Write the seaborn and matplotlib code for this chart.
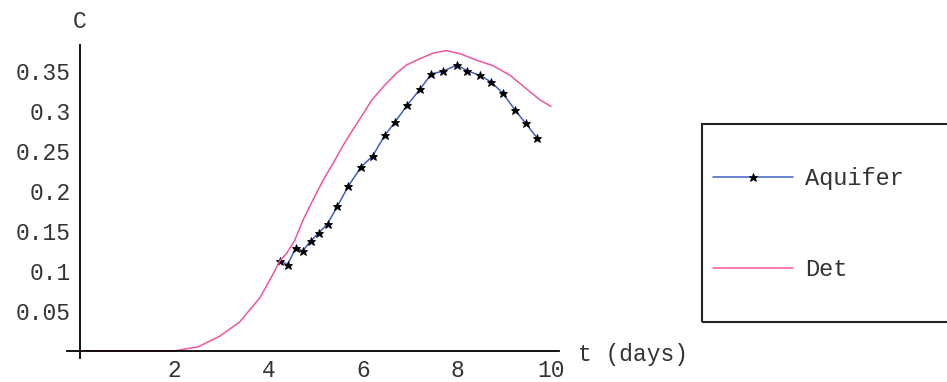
import matplotlib
matplotlib.use("Agg")
import matplotlib.pyplot as plt
from matplotlib.patches import Rectangle
import seaborn as sns

# ---- data ----
aquifer_t = [4.23, 4.40, 4.58, 4.72, 4.90, 5.07, 5.25, 5.46, 5.69, 5.96, 6.21, 6.47,
             6.69, 6.95, 7.22, 7.46, 7.70, 8.00, 8.21, 8.49, 8.72, 8.97, 9.23, 9.46, 9.70]
aquifer_c = [0.113, 0.108, 0.129, 0.125, 0.138, 0.148, 0.159, 0.181, 0.206, 0.230, 0.244, 0.270,
             0.287, 0.308, 0.328, 0.347, 0.350, 0.358, 0.351, 0.345, 0.337, 0.323, 0.302, 0.285, 0.267]
det_t = [0.12, 2.0, 2.1, 2.5, 2.95, 3.38, 3.82, 4.10, 4.24, 4.38, 4.55, 4.74, 4.95, 5.16,
         5.37, 5.59, 5.80, 6.01, 6.19, 6.44, 6.72, 6.93, 7.22, 7.50, 7.78, 8.07, 8.42,
         8.77, 9.13, 9.48, 9.77, 10.0]
det_c = [0.0, 0.0, 0.001, 0.005, 0.018, 0.036, 0.067, 0.097, 0.113, 0.122, 0.138, 0.165, 0.190, 0.214,
         0.235, 0.258, 0.278, 0.297, 0.314, 0.331, 0.348, 0.358, 0.366, 0.373, 0.376, 0.372, 0.364,
         0.357, 0.345, 0.328, 0.314, 0.306]
x_ticks = [2, 4, 6, 8, 10]
x_tick_labels = ["2", "4", "6", "8", "10"]
y_ticks = [0.05, 0.1, 0.15, 0.2, 0.25, 0.3, 0.35]
y_tick_labels = ["0.05", "0.1", "0.15", "0.2", "0.25", "0.3", "0.35"]
series_names = ["Aquifer", "Det"]
x_label = "t (days)"
y_label = "C"

sns.set_style("white")
plt.rcParams["font.family"] = ["Liberation Mono", "DejaVu Sans Mono"]
FS = 16.5
TXT = "#333333"
BLUE = "#3f5fc4"
PINK = "#f0559f"

W, H = 947, 382
fig = plt.figure(figsize=(W / 100, H / 100), dpi=100)
ax = fig.add_axes([67.3 / W, (H - 358) / H, (559 - 67.3) / W, (358 - 45) / H])

sns.lineplot(x=aquifer_t, y=aquifer_c, ax=ax, sort=False, color=BLUE, lw=1.1,
             marker="*", markersize=6.3, markerfacecolor="black",
             markeredgecolor="black", markeredgewidth=0.6, label=series_names[0])
sns.lineplot(x=det_t, y=det_c, ax=ax, sort=False, color=PINK, lw=1.1, label=series_names[1])

ax.set_xlim(-0.28, 10.17)
ax.set_ylim(-0.009, 0.383)
for s in ["top", "right"]:
    ax.spines[s].set_visible(False)
ax.spines["left"].set_position(("data", 0))
ax.spines["bottom"].set_position(("data", 0))
for s in ["left", "bottom"]:
    ax.spines[s].set_color("black")
    ax.spines[s].set_linewidth(1.3)
ax.set_xticks(x_ticks, x_tick_labels)
ax.set_yticks(y_ticks, y_tick_labels)
ax.tick_params(axis="both", direction="in", length=3, width=1, color="black",
               labelsize=FS, labelcolor=TXT)
ax.tick_params(axis="y", pad=7)
ax.tick_params(axis="x", pad=6)
ax.set_xlabel("")
ax.set_ylabel("")
fig.text(80 / W, 1 - 22 / H, y_label, ha="center", va="center", fontsize=FS, color=TXT)
fig.text(578 / W, 1 - 354 / H, x_label, ha="left", va="center", fontsize=FS, color=TXT)

handles, labels = ax.get_legend_handles_labels()
if ax.legend_:
    ax.legend_.remove()
leg = fig.legend(handles, labels, loc="upper left", bbox_to_anchor=(713 / W, 1 - 167 / H),
                 bbox_transform=fig.transFigure, frameon=False, fontsize=17,
                 handlelength=3.4, handletextpad=0.5, labelspacing=2.9,
                 borderpad=0, borderaxespad=0, numpoints=1)
for t in leg.get_texts():
    t.set_color(TXT)
fig.patches.append(Rectangle((701.7 / W, (H - 322) / H), (970 - 701.7) / W, (322 - 124) / H,
                             transform=fig.transFigure, fill=False, edgecolor="#222222",
                             linewidth=1.5, figure=fig))

fig.savefig("out.png", dpi=100)
